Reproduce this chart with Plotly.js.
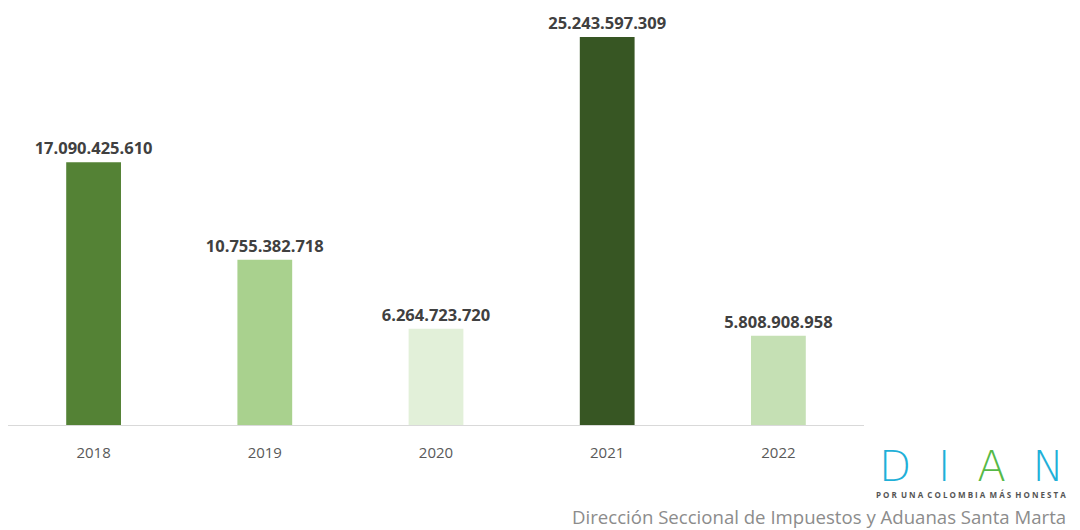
<!DOCTYPE html>
<html>
<head>
<meta charset="utf-8">
<script src="https://cdn.plot.ly/plotly-3.0.1.min.js"></script>
<style>html,body{margin:0;padding:0;background:#fff;}#chart{width:1080px;height:530px;}</style>
</head>
<body>
<div id="chart"></div>
<script>
const years = ['2018', '2019', '2020', '2021', '2022'];
const values = [17090425610, 10755382718, 6264723720, 25243597309, 5808908958];
const barColors = ['#548235', '#a9d18e', '#e2f0d9', '#375623', '#c5e0b4'];

const trace = {
  type: 'bar',
  x: years,
  y: values,
  marker: {color: barColors},
  width: 0.32,
  texttemplate: '%{y:,.0f}',
  textposition: 'outside',
  constraintext: 'none',
  cliponaxis: false,
  textfont: {family: 'Open Sans, sans-serif', size: 16.5, color: '#404040', weight: 'bold'},
  hoverinfo: 'skip'
};

// plot area: x 8..864, y 10..425
const PW = 856, PH = 415;
function px(x) { return (x - 8) / PW; }
function py(y) { return (425 - y) / PH; }

const layout = {
  width: 1080,
  height: 530,
  margin: {l: 8, r: 216, t: 10, b: 105},
  paper_bgcolor: '#ffffff',
  plot_bgcolor: '#ffffff',
  separators: ',.',
  showlegend: false,
  xaxis: {
    type: 'category',
    showline: true,
    linecolor: '#d9d9d9',
    linewidth: 1,
    ticks: 'outside',
    ticklen: 14,
    tickcolor: 'rgba(0,0,0,0)',
    tickfont: {family: 'Open Sans, sans-serif', size: 15, color: '#595959'},
    showgrid: false,
    fixedrange: true
  },
  yaxis: {
    range: [0, 27.0e9],
    visible: false,
    showgrid: false,
    zeroline: false,
    fixedrange: true
  },
  annotations: [
    {
      xref: 'paper', yref: 'paper',
      x: px(971), y: py(466), xanchor: 'center', yanchor: 'middle',
      showarrow: false,
      text: 'D&nbsp; I&nbsp; <span style="color:#56b947">A</span>&nbsp; N',
      font: {family: 'DejaVu Sans, sans-serif', size: 42, color: '#1fb0d8', weight: 200}
    },
    {
      xref: 'paper', yref: 'paper',
      x: px(971), y: py(494), xanchor: 'center', yanchor: 'middle',
      showarrow: false,
      text: 'P O R  U N A  C O L O M B I A  M Á S  H O N E S T A',
      font: {family: 'Open Sans, sans-serif', size: 8, color: '#555555', weight: 'bold'}
    },
    {
      xref: 'paper', yref: 'paper',
      x: px(1068), y: py(516), xanchor: 'right', yanchor: 'middle',
      showarrow: false,
      text: 'Dirección Seccional de Impuestos y Aduanas Santa Marta',
      font: {family: 'Open Sans, sans-serif', size: 18.6, color: '#8c8c8c'}
    }
  ]
};

Plotly.newPlot('chart', [trace], layout, {displayModeBar: false, staticPlot: true});
</script>
</body>
</html>
